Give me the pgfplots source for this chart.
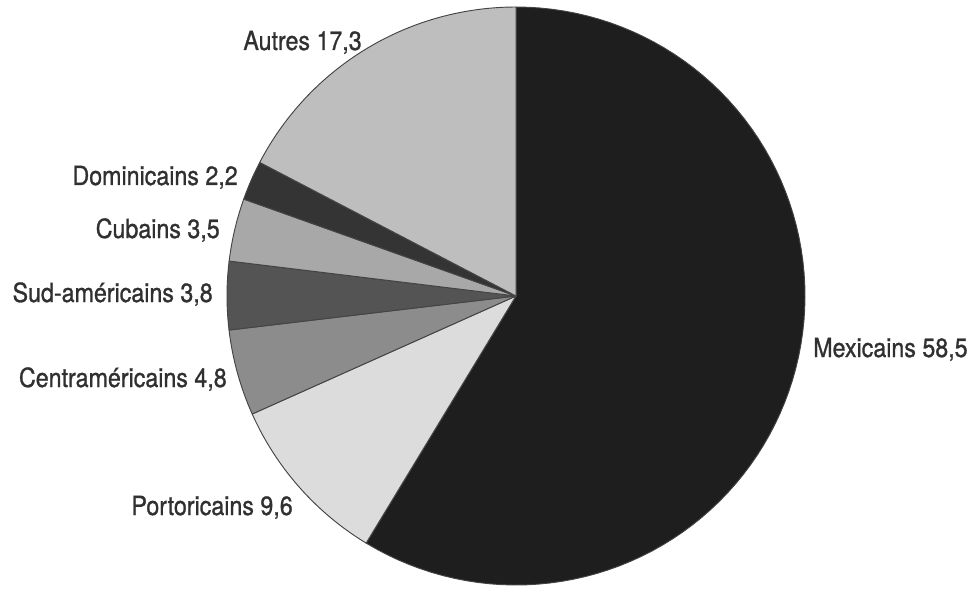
\documentclass[border=0pt]{standalone}
\usepackage{pgfplots}
\pgfplotsset{compat=1.18}
\usepackage{fontspec}
\setmainfont[FakeStretch=0.88,FakeBold=1]{TeX Gyre Heros}
\definecolor{cMex}{HTML}{1E1E1E}
\definecolor{cPor}{HTML}{DCDCDC}
\definecolor{cCen}{HTML}{8C8C8C}
\definecolor{cSud}{HTML}{545454}
\definecolor{cCub}{HTML}{A8A8A8}
\definecolor{cDom}{HTML}{343434}
\definecolor{cAut}{HTML}{BEBEBE}
\definecolor{ctxt}{HTML}{303030}
\definecolor{cedge}{HTML}{444444}
% values (percent)
\def\vMex{58.5}
\def\vPor{9.6}
\def\vCen{4.8}
\def\vSud{3.8}
\def\vCub{3.5}
\def\vDom{2.2}
\def\vAut{17.3}
\begin{document}
\begin{tikzpicture}
\pgfmathsetmacro\tot{\vMex+\vPor+\vCen+\vSud+\vCub+\vDom+\vAut}
\pgfmathsetmacro\aA{90}
\pgfmathsetmacro\aB{\aA-\vMex/\tot*360}
\pgfmathsetmacro\aC{\aB-\vPor/\tot*360}
\pgfmathsetmacro\aD{\aC-\vCen/\tot*360}
\pgfmathsetmacro\aE{\aD-\vSud/\tot*360}
\pgfmathsetmacro\aF{\aE-\vCub/\tot*360}
\pgfmathsetmacro\aG{\aF-\vDom/\tot*360}
\pgfmathsetmacro\aH{\aG-\vAut/\tot*360}
\begin{axis}[
  scale only axis, width=730.5pt, height=442.5pt,
  xmin=0, xmax=974, ymin=0, ymax=590,
  hide axis, clip=false,
  every axis plot/.append style={draw=cedge, line width=0.7pt, samples=90, line join=round},
]
\path (axis cs:0,0) rectangle (axis cs:974,590);
\addplot[fill=cMex, domain=\aB:\aA] ({516+289*cos(x)},{294+289*sin(x)}) -- (axis cs:516,294) -- cycle;
\addplot[fill=cPor, domain=\aC:\aB] ({516+289*cos(x)},{294+289*sin(x)}) -- (axis cs:516,294) -- cycle;
\addplot[fill=cCen, domain=\aD:\aC] ({516+289*cos(x)},{294+289*sin(x)}) -- (axis cs:516,294) -- cycle;
\addplot[fill=cSud, domain=\aE:\aD] ({516+289*cos(x)},{294+289*sin(x)}) -- (axis cs:516,294) -- cycle;
\addplot[fill=cCub, domain=\aF:\aE] ({516+289*cos(x)},{294+289*sin(x)}) -- (axis cs:516,294) -- cycle;
\addplot[fill=cDom, domain=\aG:\aF] ({516+289*cos(x)},{294+289*sin(x)}) -- (axis cs:516,294) -- cycle;
\addplot[fill=cAut, domain=\aH:\aG] ({516+289*cos(x)},{294+289*sin(x)}) -- (axis cs:516,294) -- cycle;
\begin{scope}[every node/.style={text=ctxt, font=\fontsize{19.8}{22}\selectfont, inner sep=0pt}]
\node[anchor=base west] at (axis cs:813,233) {Mexicains 58,5};
\node[anchor=base east] at (axis cs:293,75) {Portoricains 9,6};
\node[anchor=base east] at (axis cs:227,203) {Centraméricains 4,8};
\node[anchor=base east] at (axis cs:213,288) {Sud-américains 3,8};
\node[anchor=base east] at (axis cs:220,352) {Cubains 3,5};
\node[anchor=base east] at (axis cs:238,405) {Dominicains 2,2};
\node[anchor=base east] at (axis cs:362,540) {Autres 17,3};
\end{scope}
\end{axis}
\end{tikzpicture}
\end{document}
